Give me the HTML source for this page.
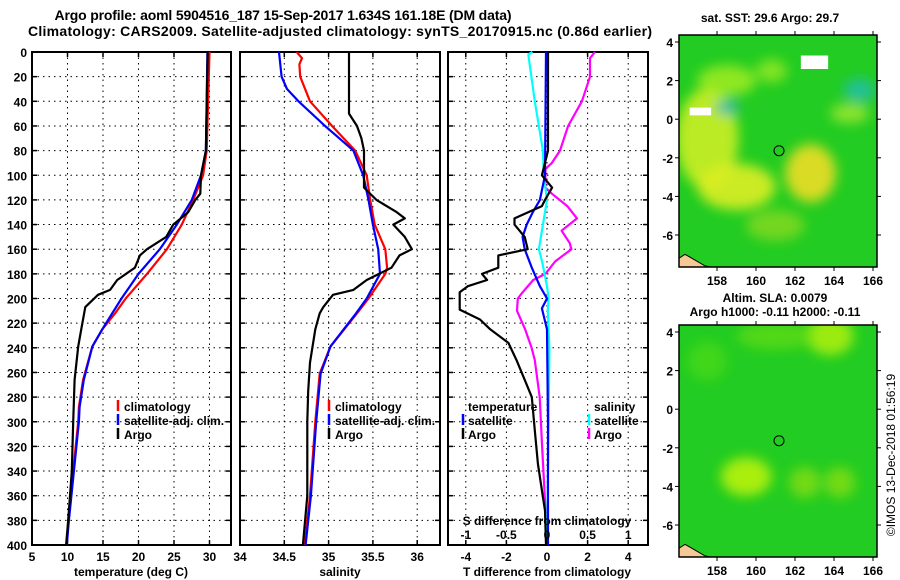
<!DOCTYPE html>
<html><head><meta charset="utf-8"><style>
html,body{margin:0;padding:0;background:#fff;}
svg{display:block;font-family:"Liberation Sans",Arial,sans-serif;font-weight:bold;}
</style></head><body>
<svg id="chart" width="900" height="580" viewBox="0 0 900 580" xmlns="http://www.w3.org/2000/svg">
<defs>
<filter id="blur1" x="-50%" y="-50%" width="200%" height="200%"><feGaussianBlur stdDeviation="6"/></filter>
<clipPath id="clipMap1"><rect x="679" y="35" width="198" height="232"/></clipPath>
<clipPath id="clipMap2"><rect x="679" y="325" width="198" height="232"/></clipPath>
</defs>
<text x="283" y="20" font-size="14" text-anchor="middle" textLength="457">Argo profile: aoml 5904516_187 15-Sep-2017 1.634S 161.18E (DM data)</text>
<text x="340" y="36" font-size="14" text-anchor="middle" textLength="624">Climatology: CARS2009. Satellite-adjusted climatology: synTS_20170915.nc (0.86d earlier)</text>
<g id="plots"></g>
<g id="maps"></g>
<text transform="translate(895,455) rotate(-90)" font-size="12" font-weight="normal" text-anchor="middle">©IMOS 13-Dec-2018 01:56:19</text>
</svg>
<script>
// ---- data ----
const depthTicks = [0,20,40,60,80,100,120,140,160,180,200,220,240,260,280,300,320,340,360,380,400];
const tempTicks = [5,10,15,20,25,30];
const salTicks = [34,34.5,35,35.5,36];
const tdiffTicks = [-4,-2,0,2,4];
const sdiffTicks = [-1,-0.5,0,0.5,1];

const argoTDepth = [0,80,100,115,120,130,140,150,160,165,175,185,193,197,207,223,239,266,300,340,380,400];
const argoTVal   = [29.75,29.5,28.8,28.7,28,27,24.9,23.9,21.2,20.2,19.5,17,16,14.3,12.5,12,11.5,11,10.8,10.6,10.1,9.8];
const climTDepth = [0,80,100,120,140,160,180,200,212,225,239,266,288,300,340,380,400];
const climTVal   = [30,29.6,29.1,27.7,26.1,24,21.2,18.2,16.7,14.9,13.5,12.2,11.6,11.5,10.8,10.1,9.9];
const satTDepth  = [0,80,100,120,140,160,180,200,212,225,239,266,288,300,340,380,400];
const satTVal    = [29.7,29.5,28.8,27.5,25.4,23,20,17.6,16.3,14.9,13.5,12.3,11.7,11.6,10.9,10.2,9.9];

const argoSDepth = [0,50,60,70,80,110,120,130,135,140,150,160,165,175,185,193,197,207,212,225,252,275,300,360,400];
const argoSVal   = [35.23,35.23,35.32,35.37,35.4,35.4,35.54,35.77,35.86,35.73,35.86,35.94,35.8,35.71,35.43,35.28,35.05,34.94,34.9,34.85,34.79,34.77,34.76,34.76,34.71];
const climSDepth = [0,5,10,20,40,60,80,100,120,140,160,175,180,200,212,239,261,300,360,400];
const climSVal   = [34.64,34.7,34.67,34.68,34.79,35.04,35.3,35.43,35.47,35.52,35.64,35.66,35.64,35.45,35.32,35.02,34.9,34.85,34.79,34.73];
const satSDepth  = [0,20,30,40,60,80,100,120,140,160,180,200,212,239,261,300,360,400];
const satSVal    = [34.44,34.47,34.53,34.66,34.96,35.28,35.39,35.45,35.5,35.56,35.58,35.43,35.31,35.02,34.91,34.86,34.8,34.74];

const argoTdDepth = [0,80,100,110,120,125,135,140,150,160,165,175,180,185,190,195,200,209,217,225,236,250,266,280,307,334,361,372,400];
const argoTdVal   = [0.05,0.05,-0.25,0.25,-0.1,-0.25,-1.6,-1.6,-1.1,-0.95,-2.4,-2.4,-3.2,-2.95,-3.9,-4.3,-4.3,-4.3,-3.3,-2.8,-1.9,-1.5,-1.1,-0.75,-0.6,-0.45,-0.2,-0.1,-0.05];
const satTdDepth  = [0,100,120,130,140,150,160,175,190,200,208,225,300,400];
const satTdVal    = [-0.05,-0.1,-0.35,-0.7,-1,-1.2,-1.1,-0.75,-0.35,0,-0.25,0,0.05,0.05];
const satSdDepth  = [0,2,40,80,100,120,160,170,190,200,209,240,300,400];
const satSdVal    = [-0.18,-0.23,-0.15,-0.05,-0.04,0,-0.1,-0.06,0,0.02,0.01,0.03,0.02,0];
const argoSdDepth = [0,5,20,40,60,80,90,95,110,115,125,135,145,155,160,170,180,185,195,200,210,225,240,250,280,320,370,400];
const argoSdVal   = [0.59,0.53,0.53,0.43,0.26,0.16,0.06,-0.02,-0.02,0.06,0.25,0.37,0.18,0.28,0.3,0.1,-0.02,-0.17,-0.3,-0.36,-0.37,-0.27,-0.19,-0.15,-0.09,-0.06,-0.02,-0.01];

const mapLonTicks = [158,160,162,164,166];
const mapLatTicks = [4,2,0,-2,-4,-6];
const argoLon = 161.18, argoLat = -1.634;

// ---- helpers ----
const NS = 'http://www.w3.org/2000/svg';
const root = document.getElementById('plots');
const mroot = document.getElementById('maps');
function mk(tag, attrs, parent){const e=document.createElementNS(NS,tag);for(const k in attrs)e.setAttribute(k,attrs[k]);(parent||root).appendChild(e);return e;}
const TOP=52, BOT=545;
function yD(d){return TOP + d*(BOT-TOP)/400;}
function xT(t){return 32 + (t-5)*7.1;}
function xS(s){return 240 + (s-34)*88.6;}
function xTd(t){return 547 + t*20.3;}
function xSd(s){return 547 + s*81.2;}

function frame(x0,x1,name,vgrid){
  const g=mk('g',{});
  
  
  depthTicks.forEach(d=>{ if(d>0&&d<400){ const l=mk('line',{x1:x0,x2:x1,y1:yD(d),y2:yD(d),stroke:'#000','stroke-width':1,'stroke-dasharray':'1.5,4'},g);
     
    mk('line',{x1:x0,x2:x0+5,y1:yD(d),y2:yD(d),stroke:'#000','stroke-width':1.5},g);
    mk('line',{x1:x1-5,x2:x1,y1:yD(d),y2:yD(d),stroke:'#000','stroke-width':1.5},g);} });
  vgrid.forEach(x=>{ if(x>x0+2&&x<x1-2){ const l=mk('line',{x1:x,x2:x,y1:TOP,y2:BOT,stroke:'#000','stroke-width':1,'stroke-dasharray':'1.5,4'},g);
     
    mk('line',{x1:x,x2:x,y1:TOP,y2:TOP+5,stroke:'#000','stroke-width':1.5},g);
    mk('line',{x1:x,x2:x,y1:BOT-5,y2:BOT,stroke:'#000','stroke-width':1.5},g);} });
  const r=mk('rect',{x:x0,y:TOP,width:x1-x0,height:BOT-TOP,fill:'none',stroke:'#000','stroke-width':2},g);
   
  return g;
}
function line(xs, ds, xf, color, name, parent){
  const pts = ds.map((d,i)=>xf(xs[i]).toFixed(1)+','+yD(d).toFixed(1)).join(' ');
  const p = mk('polyline',{points:pts,fill:'none',stroke:color,'stroke-width':2.2,'stroke-linejoin':'round'},parent);
  
  
}
function txt(x,y,s,opts,name){
  const t=mk('text',Object.assign({x:x,y:y,'font-size':12},opts||{}),opts&&opts.parent?opts.parent:root);
  t.removeAttribute('parent');
  t.textContent=s;
  
  
  return t;
}
function legendMark(x,y,color){ mk('line',{x1:x,x2:x,y1:y-11,y2:y,stroke:color,'stroke-width':2.5}); }

// y tick labels
depthTicks.forEach(d=>{ txt(27, yD(d)+5, String(d), {'text-anchor':'end'}, 'depth-tick-label'); });

// panel 1
frame(32,231,'temperature-panel',tempTicks.map(xT));
line(climTVal,climTDepth,xT,'#ff0000','temperature-climatology-line');
line(satTVal,satTDepth,xT,'#0000ff','temperature-satellite-line');
line(argoTVal,argoTDepth,xT,'#000000','temperature-argo-line');
tempTicks.forEach(t=>txt(xT(t),561,String(t),{'text-anchor':'middle'},'temperature-tick-label'));
txt(131,576,'temperature (deg C)',{'text-anchor':'middle'},'temperature-axis-title');
legendMark(118,411,'#ff0000'); txt(124,411,'climatology',{},'legend-climatology');
legendMark(118,425,'#0000ff'); txt(124,425,'satellite-adj. clim.',{},'legend-satellite-adj');
legendMark(118,439,'#000000'); txt(124,439,'Argo',{},'legend-argo');

// panel 2
frame(240,440,'salinity-panel',salTicks.map(xS));
line(climSVal,climSDepth,xS,'#ff0000','salinity-climatology-line');
line(satSVal,satSDepth,xS,'#0000ff','salinity-satellite-line');
line(argoSVal,argoSDepth,xS,'#000000','salinity-argo-line');
salTicks.forEach(t=>txt(xS(t),561,String(t),{'text-anchor':'middle'},'salinity-tick-label'));
txt(340,576,'salinity',{'text-anchor':'middle'},'salinity-axis-title');
legendMark(329,411,'#ff0000'); txt(335,411,'climatology',{},'legend-climatology');
legendMark(329,425,'#0000ff'); txt(335,425,'satellite-adj. clim.',{},'legend-satellite-adj');
legendMark(329,439,'#000000'); txt(335,439,'Argo',{},'legend-argo');

// panel 3
frame(448,648,'difference-panel',tdiffTicks.map(xTd));
line(argoSdVal,argoSdDepth,xSd,'#ff00ff','salinity-difference-argo-line');
line(satSdVal,satSdDepth,xSd,'#00ffff','salinity-difference-satellite-line');
line(satTdVal,satTdDepth,xTd,'#0000ff','temperature-difference-satellite-line');
line(argoTdVal,argoTdDepth,xTd,'#000000','temperature-difference-argo-line');
tdiffTicks.forEach(t=>txt(xTd(t),561,String(t),{'text-anchor':'middle'},'tdiff-tick-label'));
sdiffTicks.forEach(t=>txt(xSd(t),539,String(t),{'text-anchor':'middle'},'sdiff-tick-label'));
txt(547,525,'S difference from climatology',{'text-anchor':'middle'},'sdiff-axis-title');
txt(547,576,'T difference from climatology',{'text-anchor':'middle'},'tdiff-axis-title');
txt(468,411,'temperature',{},'legend-temperature-header');
legendMark(463,425,'#0000ff'); txt(468,425,'satellite',{},'legend-t-satellite');
legendMark(463,439,'#000000'); txt(468,439,'Argo',{},'legend-t-argo');
txt(594,411,'salinity',{},'legend-salinity-header');
legendMark(589,425,'#00ffff'); txt(594,425,'satellite',{},'legend-s-satellite');
legendMark(589,439,'#ff00ff'); txt(594,439,'Argo',{},'legend-s-argo');

// ---- maps ----
function lonX(lon){return 717 + (lon-158)*19.5;}
function latY1(lat){return 42 + (4-lat)*19.3;}
function latY2(lat){return 332 + (4-lat)*19.3;}
function drawMap(y0,latY,clip,name,blobs,base){
  const g=mk('g',{},mroot);
  
  
  const c=mk('g',{'clip-path':'url(#'+clip+')'},g);
  mk('rect',{x:679,y:y0,width:198,height:232,fill:base},c);
  const b=mk('g',{filter:'url(#blur1)'},c);
  blobs.forEach(o=>mk('ellipse',{cx:lonX(o[0]),cy:latY(o[1]),rx:o[2]*19.5,ry:o[3]*19.3,fill:o[4],opacity:o[5]},b));
  // land (Solomon Is.)
  const land=mk('polygon',{points:[[679,latY(-7.2)],[685,latY(-7.0)],[695,latY(-7.3)],[705,latY(-7.6)],[715,latY(-7.7)],[712,latY(-7.9)],[679,latY(-7.9)]].map(p=>p.join(',')).join(' '),fill:'#f5c896',stroke:'#000','stroke-width':1},c);
   
  const circ=mk('circle',{cx:lonX(argoLon),cy:latY(argoLat),r:5,fill:'none',stroke:'#000','stroke-width':1},g);
   
  mk('rect',{x:679,y:y0,width:198,height:232,fill:'none',stroke:'#000','stroke-width':1.5},g);
  mapLonTicks.forEach(l=>{ mk('line',{x1:lonX(l),x2:lonX(l),y1:y0-4,y2:y0,stroke:'#000'},g); mk('line',{x1:lonX(l),x2:lonX(l),y1:y0+232,y2:y0+236,stroke:'#000'},g);
    txt(lonX(l),y0+250,String(l),{'text-anchor':'middle',parent:g},'map-lon-label'); });
  mapLatTicks.forEach(l=>{ mk('line',{x1:675,x2:679,y1:latY(l),y2:latY(l),stroke:'#000'},g); mk('line',{x1:877,x2:881,y1:latY(l),y2:latY(l),stroke:'#000'},g);
    txt(673,latY(l)+5,String(l),{'text-anchor':'end',parent:g},'map-lat-label'); });
}
drawMap(35,latY1,'clipMap1','sst-map',[
  [157.5,-1,1.6,2.6,'#ccee22',0.9],[159,-3.5,2,1.2,'#ddee22',0.9],[162.8,-2.8,1.3,1.5,'#eedd22',0.9],
  [158.5,2,1.5,0.8,'#aaee22',0.8],[160.8,2.5,0.8,0.6,'#aaee22',0.7],[164.8,0.3,1,0.5,'#bbee33',0.7],
  [165.3,1.5,0.8,0.6,'#22bbcc',0.7],[158.5,0.6,0.6,0.4,'#22aadd',0.7],[161,-5.5,1.5,0.8,'#aadd22',0.6]
],'#22cc22');
// white patches & blue pixels on SST map
[[162.3,3.3,1.4,0.7],[156.6,0.6,1.1,0.4]].forEach(o=>{const r=mk('rect',{x:lonX(o[0]),y:latY1(o[1]),width:o[2]*19.5,height:o[3]*19.3,fill:'#fff'},mroot);});
drawMap(325,latY2,'clipMap2','sla-map',[
  [163.8,3.8,1.2,1,'#aaee11',0.9],[161,3.8,2,0.7,'#66dd11',0.7],[159.5,-3.5,1.3,1,'#aaee11',1],
  [162.5,-3.8,0.8,0.8,'#88dd11',0.8],[164.3,-3.8,0.8,0.8,'#88dd11',0.8],[157.5,2.5,1,1,'#55dd11',0.6]
],'#22cc22');
txt(770,22,'sat. SST: 29.6 Argo: 29.7',{'text-anchor':'middle',parent:mroot},'sst-map-title');
txt(775,302,'Altim. SLA: 0.0079',{'text-anchor':'middle',parent:mroot},'sla-map-title');
txt(775,316,'Argo h1000: -0.11 h2000: -0.11',{'text-anchor':'middle',parent:mroot},'sla-map-subtitle');
</script>
</body></html>
